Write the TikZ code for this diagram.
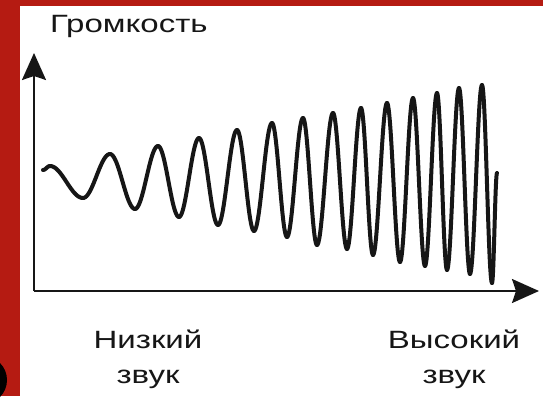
\documentclass[tikz,border=0pt]{standalone}
\usepackage{fontspec}
\usetikzlibrary{arrows.meta,positioning}
\newfontfamily\labelfont[FakeStretch=1.32]{Liberation Sans}
\definecolor{bandred}{RGB}{181,27,18}
\definecolor{ink}{RGB}{22,22,22}

\begin{document}
\begin{tikzpicture}[x=1pt,y=-1pt,
        axis/.style={ink,line width=2pt,-{Stealth[length=27pt,width=24pt,inset=4pt]}},
        wave/.style={ink,line width=4pt,line cap=round,line join=round},
        caption/.style={ink,inner sep=0pt,anchor=base,font=\labelfont\fontsize{25}{30}\selectfont}]

    % Frame
    \useasboundingbox (0,0) rectangle (543,396);
    \fill[white] (0,0) rectangle (543,396);
    \fill[bandred] (0,0) rectangle (20,396);
    \fill[bandred] (0,0) rectangle (543,6);
    \draw[black,line width=8pt] (-17,380) circle[radius=20];

    % Axes
    \coordinate (origin) at (34,291);
    \coordinate (ytip) at (34,53);
    \coordinate (xtip) at (539,291);
    \draw[axis] (origin) -- (ytip);
    \draw[axis] (origin) -- (xtip);

    % Wave
    \foreach \wx/\wy [remember=\wx as \px (initially 43),
                      remember=\wy as \py (initially 170)] in
        {50/166, 83/198, 110/154, 135/209, 158/146, 179/217, 199/138,
         218/225, 237/130, 254/231, 272/123, 287/237, 303/118, 317/245,
         333/113, 347/249, 361/108, 373/255, 387/103, 400/262, 413/98,
         425/266, 437/93, 447/270, 459/88, 470/274, 482/85, 492/283, 497/173}
        \draw[wave] plot[variable=\t,domain=0:180,samples=24]
            ({\px+(\wx-\px)*\t/180},{\py+(\wy-\py)*(1-cos(\t))/2});

    % Labels
    \node[caption,anchor=base west] (title) at (50,33) {Громкость};
    \node[caption] (low) at (148,348) {Низкий};
    \node[caption,below=35pt of low.base,anchor=base] (lowb) {звук};
    \node[caption] (high) at (454,348) {Высокий};
    \node[caption,below=35pt of high.base,anchor=base] (highb) {звук};
\end{tikzpicture}
\end{document}
